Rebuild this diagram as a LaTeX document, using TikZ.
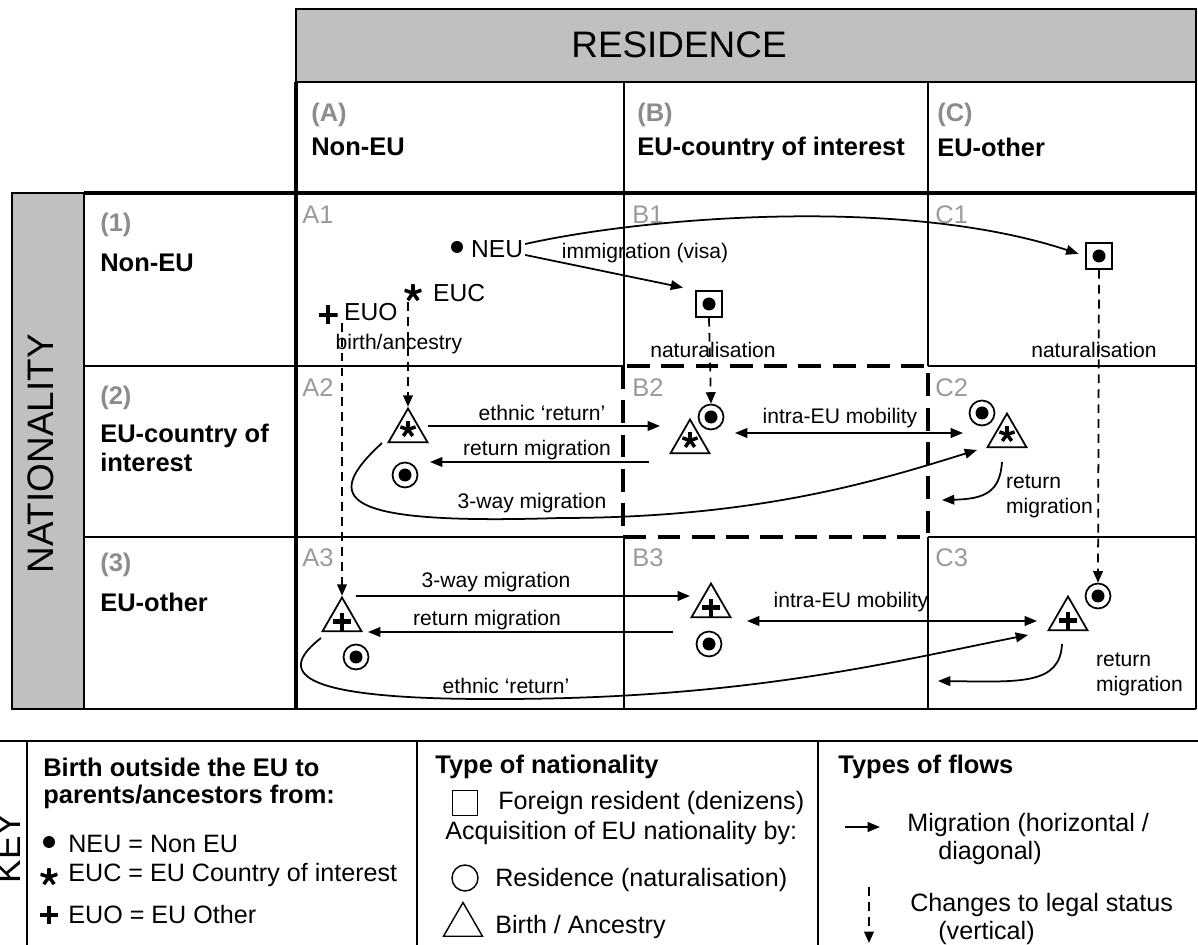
\documentclass[tikz,border=0pt]{standalone}
\usepackage{fontspec}
\setmainfont{Liberation Sans}
\usetikzlibrary{arrows.meta,shapes.geometric,calc}

\definecolor{boxgray}{HTML}{C0C0C0}
\definecolor{hdrgray}{HTML}{8C8C8C}
\definecolor{cellgray}{HTML}{9A9A9A}

% symbol strokes drawn inside path pictures
\newcommand\astk[2]{\foreach \ang in {90,18,162,234,306}{\draw[line width=2pt] #1 -- ++(\ang:#2);}}
\newcommand\plusmark[2]{\draw[line width=2.6pt] #1 ++(-#2,0pt) -- ++(2*#2,0pt) #1 ++(0pt,-#2) -- ++(0pt,2*#2);}

\tikzset{
  gridline/.style={line width=1.1pt},
  boldline/.style={line width=2.4pt},
  bdash/.style={line width=2.3pt, dash pattern=on 13pt off 6.5pt},
  keyline/.style={line width=1.2pt},
  flow/.style={line width=1pt, -{Triangle[length=7pt,width=5.5pt]}},
  flow2/.style={line width=1pt, {Triangle[length=7pt,width=5.5pt]}-{Triangle[length=7pt,width=5.5pt]}},
  legal/.style={line width=1pt, dash pattern=on 5pt off 3.5pt, -{Triangle[length=6.5pt,width=5.5pt]}},
  lbl/.style={font=\fontsize{12}{14.2}\selectfont, inner sep=1pt},
  cell/.style={font=\fontsize{14.5}{17}\selectfont, text=cellgray, anchor=west, inner sep=0pt},
  hdr/.style={font=\fontsize{14.5}{16.4}\selectfont\bfseries, anchor=west, inner sep=0pt},
  hdrnum/.style={hdr, text=hdrgray},
  orig/.style={font=\fontsize{14}{16}\selectfont, anchor=west, inner sep=1pt},
  keytxt/.style={font=\fontsize{14.3}{17}\selectfont, anchor=west, inner sep=0pt},
  keyhd/.style={font=\fontsize{14.5}{17}\selectfont\bfseries, anchor=west, inner sep=0pt},
  resbox/.style={draw, line width=1pt, minimum size=0.52cm, inner sep=0pt,
    path picture={\fill (path picture bounding box.center) circle (0.13cm);}},
  natcirc/.style={circle, draw, line width=1pt, minimum size=0.5cm, inner sep=0pt,
    path picture={\fill (path picture bounding box.center) circle (0.13cm);}},
  bthtri/.style={regular polygon, regular polygon sides=3, draw, line width=1pt,
    minimum size=0.9cm, inner sep=0pt},
  tristar/.style={bthtri, path picture={\astk{([yshift=-2.3pt]path picture bounding box.center)}{0.16cm}}},
  triplus/.style={bthtri, path picture={\plusmark{([yshift=-4.2pt]path picture bounding box.center)}{0.18cm}}},
  dotsym/.style={circle, fill, minimum size=0.24cm, inner sep=0pt},
  starsym/.style={circle, minimum size=0.36cm, inner sep=0pt,
    path picture={\astk{(path picture bounding box.center)}{0.18cm}}},
  plussym/.style={minimum size=0.38cm, inner sep=0pt,
    path picture={\plusmark{(path picture bounding box.center)}{0.19cm}}}
}

\begin{document}
\begin{tikzpicture}[x=0.02cm, y=-0.02cm]
  \useasboundingbox (0,0) rectangle (1198,945);

  % table frame
  \filldraw[fill=boxgray, gridline] (296,9) rectangle (1196,82);
  \filldraw[fill=boxgray, gridline] (12,193) rectangle (84,709);
  \draw[gridline] (1196,82) -- (1196,709) (12,709) -- (1196,709)
    (624,82) -- (624,366) (624,537) -- (624,709)
    (928,82) -- (928,366) (928,537) -- (928,709)
    (84,366) -- (623,366) (928,366) -- (1196,366)
    (84,537) -- (623,537) (928,537) -- (1196,537);
  \draw[boldline] (296,82) -- (296,709) (84,193) -- (1196,193);
  \draw[bdash] (623,366) rectangle (928,537);

  \node[font=\fontsize{21}{25}\selectfont] (res) at (679,45) {RESIDENCE};
  \node[font=\fontsize{21}{25}\selectfont, rotate=90] (nat) at (41,454) {NATIONALITY};

  % column and row headers
  \node[hdrnum] (ca) at (311,115) {(A)};
  \node[hdr] (cat) at (311,147) {Non-EU};
  \node[hdrnum] (cb) at (637,115) {(B)};
  \node[hdr] (cbt) at (637,149) {EU-country of interest};
  \node[hdrnum] (cc) at (937,115) {(C)};
  \node[hdr] (cct) at (937,147) {EU-other};
  \node[hdrnum] (r1) at (100,225) {(1)};
  \node[hdr] (r1t) at (100,263) {Non-EU};
  \node[hdrnum] (r2) at (100,398) {(2)};
  \node[hdr, align=left] (r2t) at (100,448) {EU-country of\\interest};
  \node[hdrnum] (r3) at (100,565) {(3)};
  \node[hdr] (r3t) at (100,602) {EU-other};

  % cell names
  \node[cell] (cA1) at (302,215) {A1};
  \node[cell] (cB1) at (632,215) {B1};
  \node[cell] (cC1) at (935,215) {C1};
  \node[cell] (cA2) at (302,388) {A2};
  \node[cell] (cB2) at (632,388) {B2};
  \node[cell] (cC2) at (935,388) {C2};
  \node[cell] (cA3) at (302,558) {A3};
  \node[cell] (cB3) at (632,558) {B3};
  \node[cell] (cC3) at (935,558) {C3};

  % origins
  \node[dotsym] (neudot) at (457,247) {};
  \node[orig] (neu) at (469,249) {NEU};
  \node[starsym] (eucstar) at (413,293) {};
  \node[orig] (euc) at (431,293) {EUC};
  \node[plussym] (euoplus) at (328,315) {};
  \node[orig] (euo) at (342,312) {EUO};

  % statuses
  \node[resbox] (b1sq) at (709,304) {};
  \node[resbox] (c1sq) at (1099,256) {};
  \node[natcirc] (b2c) at (711,417) {};
  \node[natcirc] (a2c) at (405,475) {};
  \node[natcirc] (c2c) at (982,413) {};
  \node[natcirc] (a3c) at (356,657) {};
  \node[natcirc] (b3c) at (709,644) {};
  \node[natcirc] (c3c) at (1098,596) {};
  \node[tristar] (a2) at (408,431) {};
  \node[tristar] (b2) at (690,442) {};
  \node[tristar] (c2) at (1007,436) {};
  \node[triplus] (a3) at (342,620) {};
  \node[triplus] (b3) at (711,606) {};
  \node[triplus] (c3) at (1068,619) {};

  % row 1 flows
  \draw[flow, shorten >=4pt] (neu.10) .. controls (640,218) and (900,195) .. (c1sq.west);
  \draw[flow, shorten >=7pt] (neu.-12) -- (b1sq.north west);
  \draw[legal] (b1sq.south) -- (b2c.north);
  \draw[legal] (c1sq.south) -- (c3c.north);
  \draw[legal] (a2.north |- eucstar.south) -- (a2.north);
  \draw[legal] (a3.north |- euo.south) -- (a3.north);

  % row 2 flows
  \draw[flow] ($(a2)+(20,-5)$) -- ($(b2)+(-30,-16)$);
  \draw[flow] ($(b2)+(-41,20)$) -- ($(a2)+(22,31)$);
  \draw[flow2] ($(b2c)+(24,16)$) -- ($(c2c)+(-19,20)$);
  \draw[flow] ($(a2)+(-26,12)$) .. controls (320,500) and (340,525) .. (560,518)
    .. controls (760,518) and (880,480) .. ($(c2)+(-30,14)$);
  \draw[flow] ($(c2)+(-5,26)$) .. controls (1000,492) and (985,499) .. ($(c2)+(-65,64)$);

  % row 3 flows
  \draw[flow] ($(a3)+(14,-24)$) -- ($(b3)+(-21,-10)$);
  \draw[flow] ($(b3)+(-38,26)$) -- ($(a3)+(26,12)$);
  \draw[flow2] ($(b3)+(36,15)$) -- ($(c3)+(-31,2)$);
  \draw[flow] ($(a3)+(-21,18)$) .. controls (280,670) and (285,700) .. (500,699)
    .. controls (750,699) and (900,660) .. ($(c3)+(-40,16)$);
  \draw[flow] ($(c3)+(-6,25)$) .. controls (1060,685) and (1020,682) .. ($(c3)+(-130,62)$);

  % flow labels
  \node[lbl] (l1) at (645,253) {immigration (visa)};
  \node[lbl] (l2) at (399,344) {birth/ancestry};
  \node[lbl] (l3) at (713,350) {naturalisation};
  \node[lbl] (l4) at (1094,350) {naturalisation};
  \node[lbl] (l5) at (542,413) {ethnic ‘return’};
  \node[lbl] (l6) at (537,450) {return migration};
  \node[lbl] (l7) at (840,418) {intra-EU mobility};
  \node[lbl] (l8) at (532,503) {3-way migration};
  \node[lbl, align=left, anchor=west] (l9) at (1004,496) {return\\migration};
  \node[lbl] (l10) at (496,582) {3-way migration};
  \node[lbl] (l11) at (487,620) {return migration};
  \node[lbl] (l12) at (851,602) {intra-EU mobility};
  \node[lbl] (l13) at (506,686) {ethnic ‘return’};
  \node[lbl, align=left, anchor=west] (l14) at (1094,674) {return\\migration};

  % key
  \draw[keyline] (0,741) -- (1198,741) (27,741) -- (27,945)
    (417,741) -- (417,945) (818,741) -- (818,945);
  \node[font=\fontsize{20}{24}\selectfont, rotate=90, anchor=base] (key) at (20,848) {KEY};

  \node[keyhd] (k1) at (43,767) {Birth outside the EU to};
  \node[keyhd] (k2) at (43,797) {parents/ancestors from:};
  \node[dotsym] (kdot) at (49,842) {};
  \node[keytxt] (k3) at (68,844) {NEU = Non EU};
  \node[starsym] (kstar) at (49,877) {};
  \node[keytxt] (k4) at (68,875) {EUC = EU Country of interest};
  \node[plussym] (kplus) at (49,915) {};
  \node[keytxt] (k5) at (68,915) {EUO = EU Other};

  \node[keyhd] (k6) at (435,767) {Type of nationality};
  \node[draw, line width=0.8pt, minimum size=0.5cm, inner sep=0pt] (ksq) at (465,803) {};
  \node[keytxt] (k7) at (498,803) {Foreign resident (denizens)};
  \node[keytxt] (k8) at (445,833) {Acquisition of EU nationality by:};
  \node[circle, draw, line width=0.8pt, minimum size=0.52cm, inner sep=0pt] (kcirc) at (465,878) {};
  \node[keytxt] (k9) at (495,880) {Residence (naturalisation)};
  \node[bthtri, line width=0.8pt] (ktri) at (463,925) {};
  \node[keytxt] (k10) at (495,927) {Birth / Ancestry};

  \node[keyhd] (k11) at (838,767) {Types of flows};
  \coordinate (mig0) at (845,827);
  \coordinate (mig1) at (880,827);
  \draw[flow] (mig0) -- (mig1);
  \node[keytxt] (k12) at (907,825) {Migration (horizontal /};
  \node[keytxt] (k13) at (938,853) {diagonal)};
  \coordinate (leg0) at (869,887);
  \coordinate (leg1) at (869,943);
  \draw[legal] (leg0) -- (leg1);
  \node[keytxt] (k14) at (910,905) {Changes to legal status};
  \node[keytxt] (k15) at (938,933) {(vertical)};
\end{tikzpicture}
\end{document}
